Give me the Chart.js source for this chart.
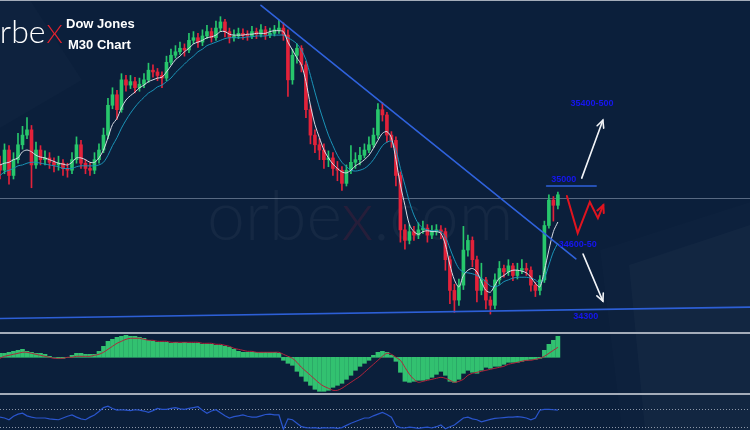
<!DOCTYPE html>
<html>
<head>
<meta charset="utf-8">
<script src="https://cdn.jsdelivr.net/npm/chart.js@4.4.0/dist/chart.umd.min.js"></script>
<style>
  body { margin: 0; width: 750px; height: 430px; overflow: hidden; position: relative; background: #0b1f3b; font-family: "Liberation Sans", Arial, sans-serif; }
  .abs { position: absolute; }
  .decoA { left: 0; top: 0; width: 750px; height: 430px; background: rgba(255,255,255,0.012); clip-path: polygon(600px 250px, 750px 202px, 750px 430px, 622px 430px); }
  .decoB { left: 0; top: 0; width: 750px; height: 430px; background: rgba(255,255,255,0.025); clip-path: polygon(629px 265px, 750px 225px, 750px 430px, 645px 430px); }
  .decoC { left: 0; top: 0; width: 750px; height: 430px; background: rgba(255,255,255,0.015); clip-path: polygon(0 0, 30px 0, 82px 80px, 0 128px); }
  .watermark { left: 207px; top: 180px; font-family: Lato, sans-serif; font-weight: 300; font-size: 68px; line-height: 68px; color: rgba(255,255,255,0.045); white-space: nowrap; }
  .watermark span { color: rgba(150,30,55,0.2); }
  .logo { left: -18px; top: 12px; font-family: Lato, sans-serif; font-weight: 300; font-size: 32px; line-height: 38px; color: #fff; white-space: nowrap; }
  .logo span { color: #e3232f; font-size: 26px; margin-left: 1px; }
  .title { color: #fff; font-weight: bold; font-size: 13px; line-height: 15px; white-space: nowrap; }
  .sep { left: 0; width: 750px; height: 2px; background: #a4acb9; }
  canvas { position: absolute; left: 0; }
</style>
</head>
<body>
<div class="abs decoA"></div>
<div class="abs decoB"></div>
<div class="abs decoC"></div>
<div class="abs watermark">orbe<span>x</span>.com</div>
<div class="abs sep" style="top:0;height:1px;"></div>
<div class="abs sep" style="top:332px;"></div>
<div class="abs sep" style="top:393px;"></div>
<canvas id="main" width="750" height="332" style="top:0"></canvas>
<canvas id="macd" width="750" height="59" style="top:334px"></canvas>
<canvas id="rsi" width="750" height="35" style="top:395px"></canvas>
<div class="abs logo">orbe<span>X</span></div>
<div class="abs title" style="left:66px;top:16px;">Dow Jones</div>
<div class="abs title" style="left:68px;top:37px;">M30 Chart</div>
<script>
// Dow Jones M30 candles (open of each bar = previous close)
const firstOpen = 35120;
const closes = [35090,35205,35060,35150,35235,35290,35320,35120,35205,35150,
  35160,35135,35120,35130,35100,35090,35150,35235,35130,35100,
  35090,35150,35205,35290,35460,35520,35435,35605,35575,35595,
  35560,35580,35605,35660,35650,35630,35615,35705,35745,35765,
  35785,35775,35830,35845,35820,35855,35880,35845,35900,35935,
  35880,35845,35855,35870,35860,35855,35880,35865,35890,35860,
  35870,35890,35900,35860,35605,35745,35785,35690,35435,35290,
  35235,35205,35150,35160,35100,35090,35015,35090,35135,35150,
  35175,35205,35235,35290,35435,35405,35290,35260,35060,34750,
  34690,34740,34720,34750,34760,34720,34740,34750,34740,34580,
  34405,34350,34435,34635,34690,34580,34405,34465,34350,34320,
  34465,34530,34510,34545,34490,34520,34530,34520,34435,34405,
  34465,34775,34920,34890,34950];
const highs = [35170,35240,35230,35190,35300,35340,35390,35345,35250,35230,
  35200,35190,35160,35170,35150,35130,35190,35280,35260,35150,
  35130,35190,35240,35330,35500,35560,35545,35640,35630,35630,
  35620,35615,35640,35700,35690,35670,35650,35740,35780,35800,
  35820,35810,35870,35880,35870,35890,35915,35900,35940,35965,
  35950,35900,35890,35900,35895,35885,35910,35900,35920,35910,
  35900,35915,35945,35930,35890,35780,35810,35800,35710,35460,
  35320,35270,35240,35200,35190,35140,35110,35120,35230,35190,
  35220,35240,35280,35330,35470,35475,35420,35310,35280,35080,
  34780,34780,34770,34790,34800,34780,34775,34780,34775,34760,
  34600,34440,34470,34770,34720,34710,34600,34560,34480,34370,
  34500,34570,34550,34580,34560,34560,34580,34560,34540,34450,
  34490,34800,34950,34940,34965];
const lows = [35040,35070,35010,35040,35130,35210,35270,34990,35100,35120,
  35120,35100,35080,35090,35060,35050,35070,35130,35100,35070,
  35060,35070,35130,35190,35270,35440,35380,35420,35540,35555,
  35530,35540,35560,35590,35620,35600,35560,35600,35690,35730,
  35750,35740,35760,35810,35790,35800,35840,35820,35830,35880,
  35850,35815,35825,35840,35835,35830,35840,35840,35850,35835,
  35845,35855,35870,35830,35510,35580,35700,35650,35390,35240,
  35190,35150,35100,35110,35060,35030,34975,35000,35070,35100,
  35120,35160,35190,35220,35270,35370,35250,35220,35000,34680,
  34640,34670,34690,34700,34730,34680,34700,34720,34700,34520,
  34330,34280,34320,34410,34600,34540,34340,34380,34300,34270,
  34300,34440,34480,34490,34460,34470,34500,34490,34400,34370,
  34380,34450,34760,34800,34870];
const fastMA = [35120,35130,35135,35150,35160,35195,35205,35195,35175,35165,
  35160,35150,35140,35130,35125,35120,35135,35160,35160,35150,
  35135,35135,35160,35205,35275,35350,35385,35445,35490,35515,
  35535,35560,35575,35595,35605,35615,35620,35650,35685,35720,
  35740,35765,35785,35810,35820,35830,35845,35850,35860,35880,
  35880,35865,35860,35860,35860,35865,35865,35870,35870,35870,
  35880,35885,35885,35880,35820,35775,35730,35690,35595,35460,
  35350,35275,35205,35160,35125,35100,35080,35075,35090,35115,
  35130,35150,35175,35215,35260,35300,35310,35275,35150,35005,
  34890,34780,34740,34725,34740,34745,34740,34740,34730,34665,
  34550,34465,34425,34490,34520,34530,34510,34455,34405,34395,
  34435,34475,34490,34510,34520,34520,34515,34505,34480,34445,
  34425,34520,34635,34740,34795];
const slowMA = [35060,35080,35090,35100,35115,35120,35130,35135,35135,35130,
  35125,35120,35115,35110,35100,35100,35100,35110,35115,35115,
  35115,35115,35120,35135,35175,35230,35275,35330,35375,35415,
  35450,35480,35505,35530,35545,35565,35575,35595,35615,35645,
  35670,35695,35720,35740,35765,35780,35800,35810,35820,35830,
  35840,35845,35845,35845,35845,35850,35850,35855,35855,35855,
  35860,35860,35860,35860,35845,35830,35810,35775,35720,35630,
  35535,35445,35365,35290,35230,35175,35135,35110,35090,35085,
  35090,35100,35120,35150,35190,35230,35250,35255,35205,35100,
  35005,34910,34835,34785,34760,34750,34745,34745,34740,34710,
  34645,34580,34530,34510,34505,34500,34490,34475,34455,34430,
  34425,34435,34455,34465,34475,34480,34480,34480,34475,34465,
  34445,34475,34550,34625,34675];

// MACD histogram and signal line
const macdHist = [4,4,5,6,7,8,6,5,4,4,
  3,1,0,-1,-1,0,2,4,4,3,
  3,3,6,11,16,18,20,21,22,21,
  21,20,19,17,16,15,15,15,14,15,
  14,15,14,14,14,13,13,13,12,12,
  11,10,8,6,5,5,5,5,5,5,
  5,5,4,-3,-6,-8,-14,-19,-24,-28,
  -32,-34,-34,-33,-30,-28,-26,-22,-18,-13,
  -9,-6,-3,2,5,6,5,2,-4,-15,
  -24,-25,-24,-23,-23,-22,-20,-17,-14,-18,
  -24,-25,-22,-16,-13,-15,-16,-13,-10,-11,
  -9,-9,-7,-5,-5,-5,-4,-3,-2,-2,
  -1,7,13,17,21];
const macdSignal = [-1,1,2,3,4,5,5,4,3,2,
  1,0,-1,-1,-1,0,0,1,1,1,
  1,2,3,5,8,11,14,16,18,19,
  19,19,18,17,17,16,16,16,15,15,
  15,15,15,15,15,14,14,14,13,13,
  12,11,9,8,7,6,6,5,5,5,
  5,5,5,3,1,-1,-5,-10,-14,-18,
  -22,-26,-29,-31,-33,-33,-31,-28,-25,-22,
  -19,-15,-11,-7,-3,1,4,3,0,-3,
  -10,-17,-22,-25,-24,-23,-22,-21,-20,-21,
  -23,-25,-24,-22,-18,-16,-15,-14,-13,-12,
  -11,-10,-9,-7,-6,-5,-4,-3,-3,-2,
  -1,1,4,7,10];

// RSI
const rsi = [52,50,46,54,59,61,55,52,50,50,
  50,48,47,46,50,54,57,52,48,46,
  52,57,65,74,77,72,68,69,68,67,
  69,68,66,63,67,72,70,70,72,74,
  71,70,72,74,76,68,61,66,69,62,
  55,50,53,55,57,54,52,52,55,58,
  59,57,57,24,48,46,38,30,28,27,
  28,26,28,27,28,26,28,33,38,42,
  46,50,50,55,59,63,58,52,32,28,
  27,29,28,26,28,29,27,30,34,25,
  30,34,42,50,52,48,46,41,44,47,
  49,50,51,52,52,53,52,50,46,50,
  68,70,70,69,68];
const rsiLevels = [70, 30];

// hand-drawn analysis, in (bar index, price)
const priceLine = 34930;
const trendLine = [{ x: 58, y: 36030 }, { x: 128, y: 34585 }];
const supportLine = [{ x: 0, y: 34245 }, { x: 166.7, y: 34310 }];
const level35000 = [{ x: 121.5, y: 35000 }, { x: 132.5, y: 35000 }];
const upArrow = [{ x: 129.3, y: 35045 }, { x: 134, y: 35375 }];
const downArrow = [{ x: 129.6, y: 34612 }, { x: 134, y: 34344 }];
const zigzag = [{ x: 126, y: 34943 }, { x: 128.4, y: 34732 }, { x: 131.1, y: 34909 }, { x: 132.9, y: 34817 }, { x: 134.1, y: 34891 }];
const levelLabels = [
  { text: '35400-500', x: 131.6, y: 35470 },
  { text: '35000', x: 125.3, y: 35035 },
  { text: '34600-50', x: 128.4, y: 34668 },
  { text: '34300', x: 130.2, y: 34258 }
];

const idx = closes.map((c, i) => i);
const opens = closes.map((c, i) => (i === 0 ? firstOpen : closes[i - 1]));
const green = '#27c66c', red = '#e3223a';
const candleColors = idx.map(i => (closes[i] >= opens[i] ? green : red));

function baseOptions(yMin, yMax) {
  return {
    responsive: false,
    animation: false,
    devicePixelRatio: 1,
    layout: { padding: 0 },
    plugins: { legend: { display: false }, tooltip: { enabled: false } },
    scales: {
      x: { type: 'linear', min: 0, max: 166.7, offset: false, display: false },
      y: { min: yMin, max: yMax, display: false }
    }
  };
}

function px(chart, p) {
  return [chart.scales.x.getPixelForValue(p.x), chart.scales.y.getPixelForValue(p.y)];
}

function polyline(ctx, chart, pts, color, width) {
  ctx.strokeStyle = color;
  ctx.lineWidth = width;
  ctx.beginPath();
  pts.forEach((p, i) => {
    const [x, y] = px(chart, p);
    if (i === 0) ctx.moveTo(x, y); else ctx.lineTo(x, y);
  });
  ctx.stroke();
}

function arrowHead(ctx, chart, from, to, color, width) {
  const [x1, y1] = px(chart, from);
  const [x2, y2] = px(chart, to);
  const a = Math.atan2(y2 - y1, x2 - x1);
  ctx.strokeStyle = color;
  ctx.lineWidth = width;
  ctx.beginPath();
  ctx.moveTo(x2 - 8 * Math.cos(a - 0.45), y2 - 8 * Math.sin(a - 0.45));
  ctx.lineTo(x2, y2);
  ctx.lineTo(x2 - 8 * Math.cos(a + 0.45), y2 - 8 * Math.sin(a + 0.45));
  ctx.stroke();
}

const drawings = {
  id: 'drawings',
  beforeDatasetsDraw(chart) {
    const { ctx, chartArea } = chart;
    const y = chart.scales.y.getPixelForValue(priceLine);
    ctx.save();
    ctx.strokeStyle = 'rgba(140,155,178,0.6)';
    ctx.lineWidth = 1;
    ctx.beginPath();
    ctx.moveTo(chartArea.left, Math.round(y) + 0.5);
    ctx.lineTo(chartArea.right, Math.round(y) + 0.5);
    ctx.stroke();
    ctx.restore();
  },
  afterDatasetsDraw(chart) {
    const ctx = chart.ctx;
    ctx.save();
    ctx.lineCap = 'round';
    polyline(ctx, chart, trendLine, '#2f62dc', 1.6);
    polyline(ctx, chart, supportLine, '#2d5fd6', 1.6);
    polyline(ctx, chart, level35000, '#2f62dc', 1.6);
    polyline(ctx, chart, upArrow, '#f2f4f8', 1.6);
    arrowHead(ctx, chart, upArrow[0], upArrow[1], '#f2f4f8', 1.6);
    polyline(ctx, chart, downArrow, '#f2f4f8', 1.6);
    arrowHead(ctx, chart, downArrow[0], downArrow[1], '#f2f4f8', 1.6);
    ctx.lineJoin = 'miter';
    polyline(ctx, chart, zigzag, '#e0141f', 2);
    arrowHead(ctx, chart, zigzag[3], zigzag[4], '#e0141f', 2);
    ctx.font = 'bold 9px "Liberation Sans", Arial, sans-serif';
    ctx.fillStyle = '#1616f0';
    ctx.textAlign = 'center';
    ctx.textBaseline = 'middle';
    levelLabels.forEach(l => {
      const [x, y] = px(chart, l);
      ctx.fillText(l.text, x, y);
    });
    ctx.restore();
  }
};

new Chart(document.getElementById('main'), {
  type: 'bar',
  data: {
    datasets: [
      {
        type: 'line',
        data: idx.map(i => ({ x: i, y: fastMA[i] })),
        borderColor: '#d9dde6',
        borderWidth: 1,
        pointRadius: 0,
        tension: 0.3,
        order: 0
      },
      {
        type: 'line',
        data: idx.map(i => ({ x: i, y: slowMA[i] })),
        borderColor: '#1b94b8',
        borderWidth: 1,
        pointRadius: 0,
        tension: 0.3,
        order: 0
      },
      {
        data: idx.map(i => ({ x: i, y: [opens[i], closes[i]] })),
        backgroundColor: candleColors,
        barThickness: 3,
        minBarLength: 1,
        grouped: false,
        order: 1
      },
      {
        data: idx.map(i => ({ x: i, y: [lows[i], highs[i]] })),
        backgroundColor: candleColors,
        barThickness: 1,
        grouped: false,
        order: 2
      }
    ]
  },
  options: baseOptions(34168, 36060),
  plugins: [drawings]
});

new Chart(document.getElementById('macd'), {
  type: 'bar',
  data: {
    datasets: [
      {
        type: 'line',
        data: idx.map(i => ({ x: i, y: macdSignal[i] })),
        borderColor: '#b3243c',
        borderWidth: 1,
        pointRadius: 0,
        tension: 0.3,
        order: 0
      },
      {
        data: idx.map(i => ({ x: i, y: macdHist[i] })),
        backgroundColor: '#32c170',
        barThickness: 4,
        order: 1
      }
    ]
  },
  options: baseOptions(-35.7, 23.3)
});

const rsiGuides = {
  id: 'rsiGuides',
  beforeDatasetsDraw(chart) {
    const { ctx, chartArea } = chart;
    ctx.save();
    ctx.strokeStyle = '#8d97a8';
    ctx.lineWidth = 1;
    ctx.setLineDash([1, 2]);
    rsiLevels.forEach(v => {
      const y = Math.round(chart.scales.y.getPixelForValue(v)) + 0.5;
      ctx.beginPath();
      ctx.moveTo(chartArea.left, y);
      ctx.lineTo(chartArea.right, y);
      ctx.stroke();
    });
    ctx.restore();
  }
};

new Chart(document.getElementById('rsi'), {
  type: 'line',
  data: {
    datasets: [{
      data: idx.map(i => ({ x: i, y: rsi[i] })),
      borderColor: '#2a55cc',
      borderWidth: 1.2,
      pointRadius: 0,
      tension: 0
    }]
  },
  options: baseOptions(22.4, 102.9),
  plugins: [rsiGuides]
});
</script>
</body>
</html>
